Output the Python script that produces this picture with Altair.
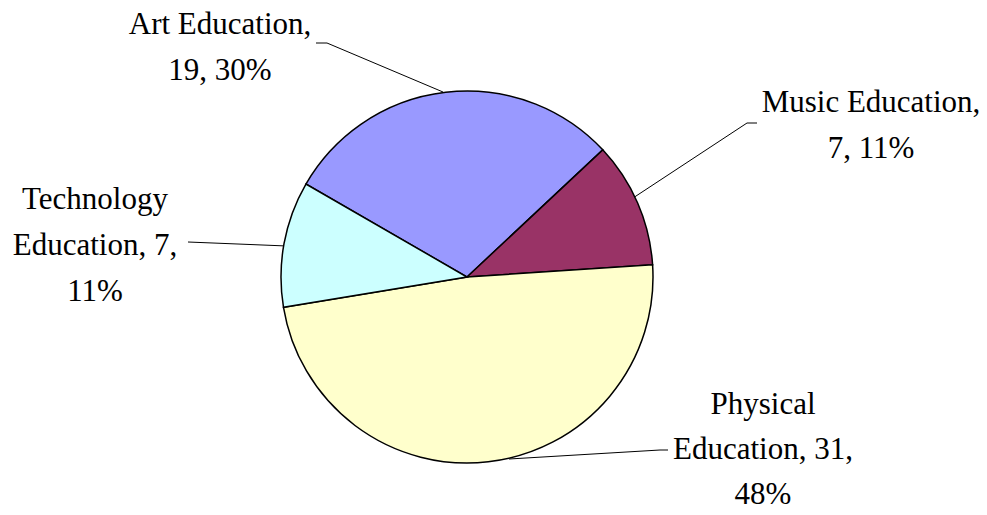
import math
import altair as alt
import pandas as pd

# ---- data ----
categories = ["Art Education", "Music Education", "Physical Education", "Technology Education"]
values = [19, 7, 31, 7]
colors = ["#9999FF", "#993366", "#FFFFCC", "#CCFFFF"]
# how many words go on each label line
line_groups = [[2, 2], [2, 2], [1, 2, 1], [1, 2, 1]]

total = sum(values)
pcts = [round(v * 100 / total) for v in values]

# ---- layout (annotation positions, page pixels) ----
OFF = 8
W, H = 971, 499
CX, CY, R = 467 - OFF, 277 - OFF, 186
LINE_H = 46
FONT = "Liberation Serif"
FSIZE = 31
label_anchor = [(220, 34), (871, 112), (763, 414), (95, 209)]
line_h = [LINE_H, LINE_H, 45, LINE_H]
leaders = [
    [(316, 43), (327, 43), (443, 92)],
    [(757, 123), (747, 123), (633, 198)],
    [(668, 450), (660, 450), (509, 459)],
    [(188, 242), (287, 246)],
]

df = pd.DataFrame({"category": categories, "value": values, "order": list(range(len(values)))})

start = -math.pi / 3
pie = alt.Chart(df).mark_arc(outerRadius=R, stroke="black", strokeWidth=1.5).encode(
    theta=alt.Theta("value:Q", stack=True,
                    scale=alt.Scale(range=[start, start + 2 * math.pi])),
    color=alt.Color("category:N", scale=alt.Scale(domain=categories, range=colors), legend=None),
    order=alt.Order("order:Q"),
    x=alt.value(CX),
    y=alt.value(CY),
)

rows = []
for cat, v, p, groups, (ax, ay), lh in zip(categories, values, pcts, line_groups, label_anchor, line_h):
    words = f"{cat}, {v}, {p}%".split(" ")
    i = 0
    for k, g in enumerate(groups):
        rows.append({"text": " ".join(words[i:i + g]), "x": ax - OFF, "y": ay - OFF + k * lh})
        i += g
lab = pd.DataFrame(rows)

text = alt.Chart(lab).mark_text(font=FONT, fontSize=FSIZE, align="center",
                                baseline="alphabetic", color="black").encode(
    x=alt.X("x:Q", scale=None, axis=None),
    y=alt.Y("y:Q", scale=None, axis=None),
    text="text:N",
)

segs = []
for pts in leaders:
    for (x1, y1), (x2, y2) in zip(pts[:-1], pts[1:]):
        segs.append({"x": x1 - OFF, "y": y1 - OFF, "x2": x2 - OFF, "y2": y2 - OFF})
seg = pd.DataFrame(segs)
rules = alt.Chart(seg).mark_rule(color="black", strokeWidth=1).encode(
    x=alt.X("x:Q", scale=None, axis=None),
    y=alt.Y("y:Q", scale=None, axis=None),
    x2="x2:Q",
    y2="y2:Q",
)

chart = alt.layer(rules, pie, text).properties(
    width=W, height=H, padding=0, autosize="none", background="white"
).configure_view(stroke=None)

chart.save("out.html", embed_options={"renderer": "svg", "actions": False})
